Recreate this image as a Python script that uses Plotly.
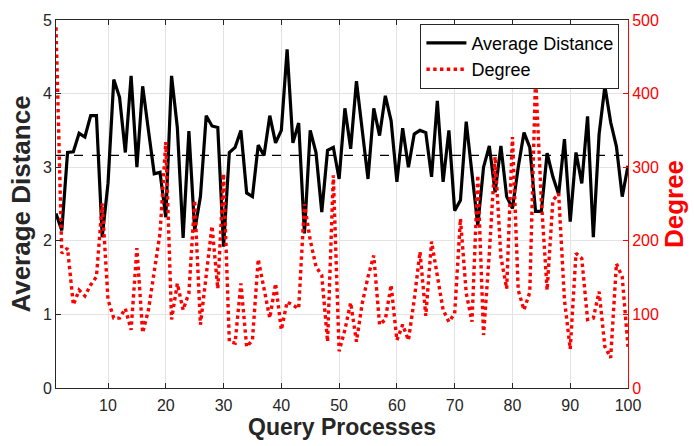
import plotly.graph_objects as go

queries = list(range(1, 101))

avg_distance = [
    2.37, 2.14, 3.20, 3.21, 3.46, 3.41, 3.70, 3.70, 2.05, 2.78,
    4.19, 3.95, 3.20, 4.24, 3.00, 4.10, 3.50, 2.91, 2.93, 2.32,
    4.24, 3.54, 2.04, 3.49, 2.14, 2.60, 3.70, 3.56, 3.54, 1.92,
    3.20, 3.27, 3.50, 2.65, 2.60, 3.30, 3.16, 3.70, 3.33, 3.50,
    4.60, 3.33, 3.60, 2.10, 3.50, 3.20, 2.39, 3.23, 3.27, 2.84,
    3.80, 3.25, 4.17, 3.54, 2.84, 3.80, 3.43, 3.97, 3.63, 2.80,
    3.53, 3.00, 3.45, 3.50, 3.47, 2.87, 3.90, 2.80, 3.50, 2.41,
    2.55, 3.62, 2.93, 2.21, 3.00, 3.29, 2.66, 3.29, 2.60, 2.44,
    3.00, 3.47, 3.27, 2.40, 2.40, 3.19, 2.87, 2.63, 3.38, 2.26,
    3.20, 2.78, 3.69, 2.05, 3.45, 4.10, 3.61, 3.28, 2.60, 3.02,
]

degree = [
    490, 183, 190, 113, 133, 125, 140, 151, 251, 120,
    95, 95, 108, 79, 190, 75, 106, 160, 210, 334,
    93, 142, 106, 129, 255, 86, 156, 220, 135, 291,
    63, 61, 142, 56, 65, 175, 135, 95, 142, 79,
    117, 113, 108, 250, 201, 165, 153, 63, 289, 50,
    79, 116, 63, 115, 151, 180, 86, 93, 140, 65,
    86, 65, 120, 185, 98, 199, 151, 106, 90, 101,
    230, 129, 90, 289, 72, 183, 314, 178, 135, 341,
    133, 106, 130, 422, 255, 133, 255, 264, 120, 53,
    183, 176, 93, 95, 131, 56, 41, 169, 151, 56,
]

mean_distance = 3.16

x_ticks = [10, 20, 30, 40, 50, 60, 70, 80, 90, 100]
left_ticks = [0, 1, 2, 3, 4, 5]
right_ticks = [0, 100, 200, 300, 400, 500]

FONT = "Liberation Sans, Arial, sans-serif"
TICK_COLOR = "#262626"

fig = go.Figure()

fig.add_trace(go.Scatter(
    x=[queries[0], queries[-1]], y=[mean_distance, mean_distance],
    mode="lines", line=dict(color="black", width=1.3, dash="dash"),
    showlegend=False, hoverinfo="skip",
))

fig.add_trace(go.Scatter(
    x=queries, y=avg_distance, mode="lines", name="Average Distance",
    line=dict(color="black", width=3.2),
))

fig.add_trace(go.Scatter(
    x=queries, y=degree, mode="lines", name="Degree", yaxis="y2",
    line=dict(color="#ff0000", width=3.4, dash="dot"),
))

fig.update_layout(
    width=694, height=446,
    margin=dict(l=56, r=66, t=18, b=58),
    paper_bgcolor="white", plot_bgcolor="white",
    font=dict(family=FONT, size=16, color=TICK_COLOR),
    xaxis=dict(
        range=[1, 100], tickvals=x_ticks, ticktext=[str(v) for v in x_ticks],
        showgrid=True, gridcolor="#e3e3e3", gridwidth=1,
        showline=True, linecolor="#262626", linewidth=1, mirror="ticks",
        ticks="inside", ticklen=5, tickcolor="#262626",
        ticklabelstandoff=3,
        tickfont=dict(family=FONT, size=16, color=TICK_COLOR),
        title=dict(text="<b>Query Processes</b>", font=dict(family=FONT, size=23, color=TICK_COLOR), standoff=3),
        zeroline=False,
    ),
    yaxis=dict(
        range=[0, 5], tickvals=left_ticks,
        showgrid=True, gridcolor="#e3e3e3", gridwidth=1,
        showline=True, linecolor="#262626", linewidth=1,
        ticks="inside", ticklen=5, tickcolor="#262626",
        tickfont=dict(family=FONT, size=16, color=TICK_COLOR),
        title=dict(text="<b>Average Distance</b>", font=dict(family=FONT, size=26, color=TICK_COLOR), standoff=4),
        zeroline=False,
    ),
    yaxis2=dict(
        range=[0, 500], tickvals=right_ticks, overlaying="y", side="right",
        showgrid=False,
        showline=True, linecolor="#ff0000", linewidth=1,
        ticks="inside", ticklen=5, tickcolor="#ff0000",
        tickfont=dict(family=FONT, size=16, color="#ff0000"),
        title=dict(text="<b>Degree</b>", font=dict(family=FONT, size=26, color="#ff0000"), standoff=4),
        zeroline=False,
    ),
    legend=dict(
        x=0.985, y=0.99, xanchor="right", yanchor="top",
        bgcolor="white", bordercolor="#262626", borderwidth=1,
        font=dict(family=FONT, size=18, color="black"),
        tracegroupgap=0, itemwidth=40,
    ),
)

fig.write_html("out.html")
